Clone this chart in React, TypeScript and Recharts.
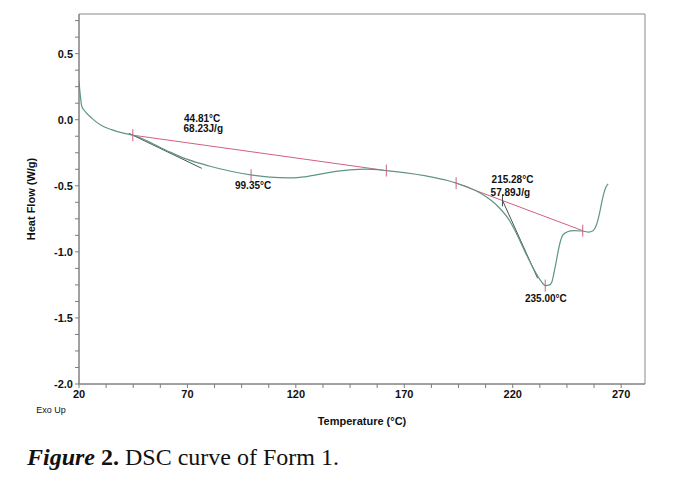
import React from 'react';
import {
  ComposedChart, Line, Scatter, XAxis, YAxis, ReferenceArea, Label,
} from 'recharts';

// DSC heat-flow trace (Temperature °C, Heat Flow W/g)
const curve = [
  { x: 20.0, y: 0.29 }, { x: 20.5, y: 0.2 }, { x: 21.3, y: 0.1 }, { x: 23, y: 0.06 },
  { x: 26, y: 0.01 }, { x: 30, y: -0.04 }, { x: 35, y: -0.075 }, { x: 40, y: -0.1 },
  { x: 44.8, y: -0.117 }, { x: 50, y: -0.15 }, { x: 55, y: -0.19 }, { x: 62, y: -0.245 },
  { x: 70, y: -0.3 }, { x: 80, y: -0.35 }, { x: 90, y: -0.39 }, { x: 100, y: -0.42 },
  { x: 108, y: -0.435 }, { x: 117, y: -0.44 }, { x: 125, y: -0.43 }, { x: 135, y: -0.4 },
  { x: 145, y: -0.38 }, { x: 152, y: -0.374 }, { x: 161.7, y: -0.385 }, { x: 170, y: -0.4 },
  { x: 180, y: -0.425 }, { x: 190, y: -0.46 }, { x: 194, y: -0.48 }, { x: 200, y: -0.515 },
  { x: 205, y: -0.555 }, { x: 210, y: -0.61 }, { x: 214, y: -0.67 }, { x: 218, y: -0.75 },
  { x: 222, y: -0.87 }, { x: 226, y: -1.01 }, { x: 230, y: -1.14 }, { x: 233, y: -1.22 },
  { x: 235, y: -1.255 }, { x: 237, y: -1.25 }, { x: 238, y: -1.23 }, { x: 239, y: -1.16 },
  { x: 240, y: -1.08 }, { x: 241, y: -0.99 }, { x: 242, y: -0.92 }, { x: 243, y: -0.875 },
  { x: 245, y: -0.85 }, { x: 248, y: -0.84 }, { x: 252, y: -0.842 }, { x: 255, y: -0.85 },
  { x: 257, y: -0.84 }, { x: 258.5, y: -0.8 }, { x: 260, y: -0.71 }, { x: 261, y: -0.63 },
  { x: 262, y: -0.56 }, { x: 263, y: -0.51 }, { x: 264, y: -0.485 },
];

// integration baselines
const baseline1 = [{ x: 44.81, y: -0.117 }, { x: 161.7, y: -0.385 }];
const baseline2 = [{ x: 193.9, y: -0.48 }, { x: 252.3, y: -0.84 }];

// onset tangents
const tangent1 = [{ x: 43, y: -0.103 }, { x: 76.6, y: -0.368 }];
const tangent2 = [{ x: 215.28, y: -0.61 }, { x: 231.5, y: -1.2 }];

// marker ticks
const redMarks = [
  { x: 44.81, y: -0.117 }, { x: 99.35, y: -0.42 }, { x: 161.7, y: -0.385 },
  { x: 193.9, y: -0.48 }, { x: 235.0, y: -1.255 }, { x: 252.3, y: -0.84 },
];
const darkMarks = [{ x: 215.28, y: -0.61 }];

// annotation texts
const annotations = [
  { x: 76.8, y: 0.012, text: '44.81°C' },
  { x: 77.3, y: -0.064, text: '68.23J/g' },
  { x: 100.3, y: -0.495, text: '99.35°C' },
  { x: 219.9, y: -0.45, text: '215.28°C' },
  { x: 218.9, y: -0.549, text: '57.89J/g' },
  { x: 235.3, y: -1.35, text: '235.00°C' },
];

const xTicks = [20, 32.5, 45, 57.5, 70, 82.5, 95, 107.5, 120, 132.5, 145, 157.5, 170, 182.5, 195, 207.5, 220, 232.5, 245, 257.5, 270];
const yTicks = [-2, -1.875, -1.75, -1.625, -1.5, -1.375, -1.25, -1.125, -1, -0.875, -0.75, -0.625, -0.5, -0.375, -0.25, -0.125, 0, 0.125, 0.25, 0.375, 0.5, 0.625, 0.75];
const xDomain = [20, 281];
const yDomain = [-2, 0.8];

const FONT = '"Liberation Sans", Arial, sans-serif';
const GREEN = '#5f9583';
const RED = '#d2607e';
const DARK = '#4a4f4d';
const AXIS = '#7c7c7c';

const tickStyle = { fontSize: 11, fontWeight: 'bold', fill: '#111', fontFamily: FONT };

const markShape = (color: string) => (p: any) => (
  <line x1={p.cx} x2={p.cx} y1={p.cy - 6} y2={p.cy + 6} stroke={color} strokeWidth={1} />
);

const textShape = (p: any) => (
  <text x={p.cx} y={p.cy} textAnchor="middle" dominantBaseline="central"
    fontSize={10} fontWeight="bold" fontFamily={FONT} fill="#111">
    {p.payload.text}
  </text>
);

export default function App() {
  return (
    <div style={{ position: 'relative', width: 660, height: 470 }}>
      <ComposedChart width={660} height={430} margin={{ top: 6, right: 23, bottom: 24, left: 11 }}>
        <XAxis type="number" dataKey="x" domain={xDomain} ticks={xTicks} allowDataOverflow
          interval={0} height={30} tickSize={4} tickMargin={2} stroke={AXIS}
          tick={tickStyle}
          tickFormatter={(v: number) => ((v - 20) % 50 === 0 ? String(v) : '')}>
          <Label value="Temperature (°C)" position="bottom" offset={3}
            style={{ fontSize: 11, fontWeight: 'bold', fill: '#111', fontFamily: FONT }} />
          <Label content={(props: any) => {
            const vb = props.viewBox || { x: 71, y: 376 };
            return (
              <text x={vb.x - 28} y={vb.y + 26} textAnchor="middle" dominantBaseline="central"
                fontSize={9} fontFamily={FONT} fill="#111">Exo Up</text>
            );
          }} />
        </XAxis>
        <YAxis type="number" dataKey="y" domain={yDomain} ticks={yTicks} allowDataOverflow
          interval={0} width={60} tickSize={4} tickMargin={2} stroke={AXIS}
          tick={tickStyle}
          tickFormatter={(v: number) => (Math.abs((v * 2) - Math.round(v * 2)) < 1e-9 ? v.toFixed(1) : '')}>
          <Label value="Heat Flow (W/g)" angle={-90} position="insideLeft" offset={12}
            style={{ textAnchor: 'middle', fontSize: 11, fontWeight: 'bold', fill: '#111', fontFamily: FONT }} />
        </YAxis>
        <ReferenceArea x1={xDomain[0]} x2={xDomain[1]} y1={yDomain[0]} y2={yDomain[1]}
          fill="none" stroke="#8a8a8a" strokeWidth={1} />
        <Line data={tangent1} dataKey="y" type="linear" stroke={DARK} strokeWidth={1} dot={false} isAnimationActive={false} />
        <Line data={tangent2} dataKey="y" type="linear" stroke={DARK} strokeWidth={1} dot={false} isAnimationActive={false} />
        <Line data={baseline1} dataKey="y" type="linear" stroke={RED} strokeWidth={1} dot={false} isAnimationActive={false} />
        <Line data={baseline2} dataKey="y" type="linear" stroke={RED} strokeWidth={1} dot={false} isAnimationActive={false} />
        <Line data={curve} dataKey="y" type="monotone" stroke={GREEN} strokeWidth={1.2} dot={false} isAnimationActive={false} />
        <Scatter data={redMarks} dataKey="y" shape={markShape(RED)} isAnimationActive={false} />
        <Scatter data={darkMarks} dataKey="y" shape={markShape(DARK)} isAnimationActive={false} />
        <Scatter data={annotations} dataKey="y" shape={textShape} isAnimationActive={false} />
      </ComposedChart>
      <div style={{ position: 'absolute', left: 19, top: 435, fontFamily: '"Liberation Serif", "Times New Roman", serif', fontSize: 24, lineHeight: '28px', color: '#111', whiteSpace: 'nowrap' }}>
        <b><i>Figure</i> 2.</b> DSC curve of Form 1.
      </div>
    </div>
  );
}
